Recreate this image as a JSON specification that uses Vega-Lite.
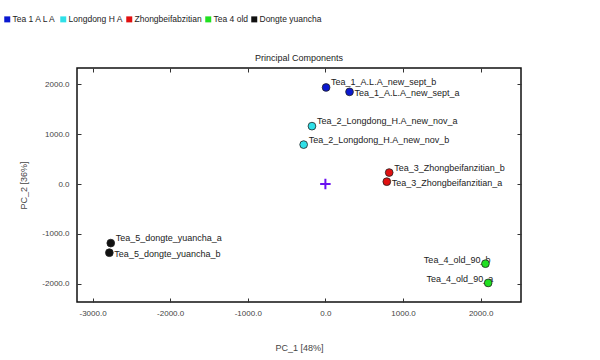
{
  "$schema": "https://vega.github.io/schema/vega-lite/v6.json",
  "autosize": {"type": "none"},
  "width": 444,
  "height": 234,
  "padding": {"left": 77, "top": 68, "right": 79, "bottom": 58},
  "background": "white",
  "config": {
    "font": "Liberation Sans",
    "view": {"stroke": "#111", "strokeWidth": 1.5},
    "axis": {"grid": false, "domain": false, "tickColor": "#333", "tickSize": -4, "labelFontSize": 8, "labelColor": "#444", "titleFontSize": 9, "titleFontWeight": "normal", "titleColor": "#444"}
  },
  "title": {"text": "Principal Components", "fontSize": 9, "fontWeight": "normal", "color": "#222", "offset": -48},
  "datasets": {
    "pts": [
      {"name": "Tea_1_A.L.A_new_sept_b", "group": "Tea 1 A L A", "pc1": 9, "pc2": 1939},
      {"name": "Tea_1_A.L.A_new_sept_a", "group": "Tea 1 A L A", "pc1": 311, "pc2": 1851},
      {"name": "Tea_2_Longdong_H.A_new_nov_a", "group": "Longdong H A", "pc1": -173, "pc2": 1162},
      {"name": "Tea_2_Longdong_H.A_new_nov_b", "group": "Longdong H A", "pc1": -280, "pc2": 791},
      {"name": "Tea_3_Zhongbeifanzitian_b", "group": "Zhongbeifabzitian", "pc1": 822, "pc2": 230},
      {"name": "Tea_3_Zhongbeifanzitian_a", "group": "Zhongbeifabzitian", "pc1": 791, "pc2": 47},
      {"name": "Tea_4_old_90_b", "group": "Tea 4 old", "pc1": 2062, "pc2": -1600},
      {"name": "Tea_4_old_90_a", "group": "Tea 4 old", "pc1": 2097, "pc2": -1987},
      {"name": "Tea_5_dongte_yuancha_a", "group": "Dongte yuancha", "pc1": -2765, "pc2": -1187},
      {"name": "Tea_5_dongte_yuancha_b", "group": "Dongte yuancha", "pc1": -2783, "pc2": -1380}
    ],
    "center": [{"pc1": 0, "pc2": 0}]
  },
  "resolve": {"axis": {"x": "independent", "y": "independent"}},
  "layer": [
    {
      "data": {"name": "pts"},
      "transform": [{"filter": "datum.group !== 'Tea 4 old' && indexof(['Tea_1_A.L.A_new_sept_a', 'Tea_3_Zhongbeifanzitian_a', 'Tea_5_dongte_yuancha_b'], datum.name) < 0"}],
      "mark": {"type": "text", "align": "left", "baseline": "middle", "dx": 5, "dy": -5, "fontSize": 9, "color": "#222"},
      "encoding": {
        "x": {"field": "pc1", "type": "quantitative", "scale": {"domain": [-3200, 2520], "nice": false, "zero": false}, "axis": {"orient": "bottom", "values": [-3000, -2000, -1000, 0, 1000, 2000], "labelExpr": "replace(format(datum.value, '.1f'), '\u2212', '-')", "labelPadding": 11, "title": "PC_1 [48%]", "titlePadding": 26}},
        "y": {"field": "pc2", "type": "quantitative", "scale": {"domain": [-2370, 2330], "nice": false, "zero": false}, "axis": {"orient": "left", "values": [-2000, -1000, 0, 1000, 2000], "labelExpr": "replace(format(datum.value, '.1f'), '\u2212', '-')", "labelPadding": 12, "title": "PC_2 [36%]", "titlePadding": 13}},
        "text": {"field": "name"}
      }
    },
    {
      "data": {"name": "pts"},
      "transform": [{"filter": "indexof(['Tea_1_A.L.A_new_sept_a', 'Tea_3_Zhongbeifanzitian_a', 'Tea_5_dongte_yuancha_b'], datum.name) >= 0"}],
      "mark": {"type": "text", "align": "left", "baseline": "middle", "dx": 5, "dy": 1, "fontSize": 9, "color": "#222"},
      "encoding": {
        "x": {"field": "pc1", "type": "quantitative", "axis": null},
        "y": {"field": "pc2", "type": "quantitative", "axis": null},
        "text": {"field": "name"}
      }
    },
    {
      "data": {"name": "pts"},
      "transform": [{"filter": "datum.group === 'Tea 4 old'"}],
      "mark": {"type": "text", "align": "right", "baseline": "middle", "dx": 5, "dy": -4, "fontSize": 9, "color": "#222"},
      "encoding": {
        "x": {"field": "pc1", "type": "quantitative", "axis": {"orient": "top", "values": [-3000, -2000, -1000, 0, 1000, 2000], "labels": false, "title": null}},
        "y": {"field": "pc2", "type": "quantitative", "axis": {"orient": "right", "values": [-2000, -1000, 0, 1000, 2000], "labels": false, "title": null}},
        "text": {"field": "name"}
      }
    },
    {
      "data": {"name": "center"},
      "mark": {"type": "point", "shape": "M-1,0H1M0,-1V1", "size": 110, "stroke": "#6a10f0", "strokeWidth": 2, "filled": false, "opacity": 1},
      "encoding": {
        "x": {"field": "pc1", "type": "quantitative", "axis": null},
        "y": {"field": "pc2", "type": "quantitative", "axis": null}
      }
    },
    {
      "data": {"name": "pts"},
      "mark": {"type": "point", "filled": true, "size": 60, "stroke": "#222", "strokeWidth": 0.8, "opacity": 1},
      "encoding": {
        "x": {"field": "pc1", "type": "quantitative", "axis": null},
        "y": {"field": "pc2", "type": "quantitative", "axis": null},
        "color": {
          "field": "group", "type": "nominal",
          "scale": {"domain": ["Tea 1 A L A", "Longdong H A", "Zhongbeifabzitian", "Tea 4 old", "Dongte yuancha"], "range": ["#0a18d0", "#30e0e8", "#e01010", "#20e020", "#111111"]},
          "legend": {"orient": "none", "legendX": -74, "legendY": -53, "direction": "horizontal", "title": null, "symbolType": "square", "symbolSize": 36, "symbolStrokeWidth": 0, "labelFontSize": 8.5, "labelColor": "#222", "labelOffset": 1, "columnPadding": 2, "padding": 0}
        }
      }
    }
  ]
}
